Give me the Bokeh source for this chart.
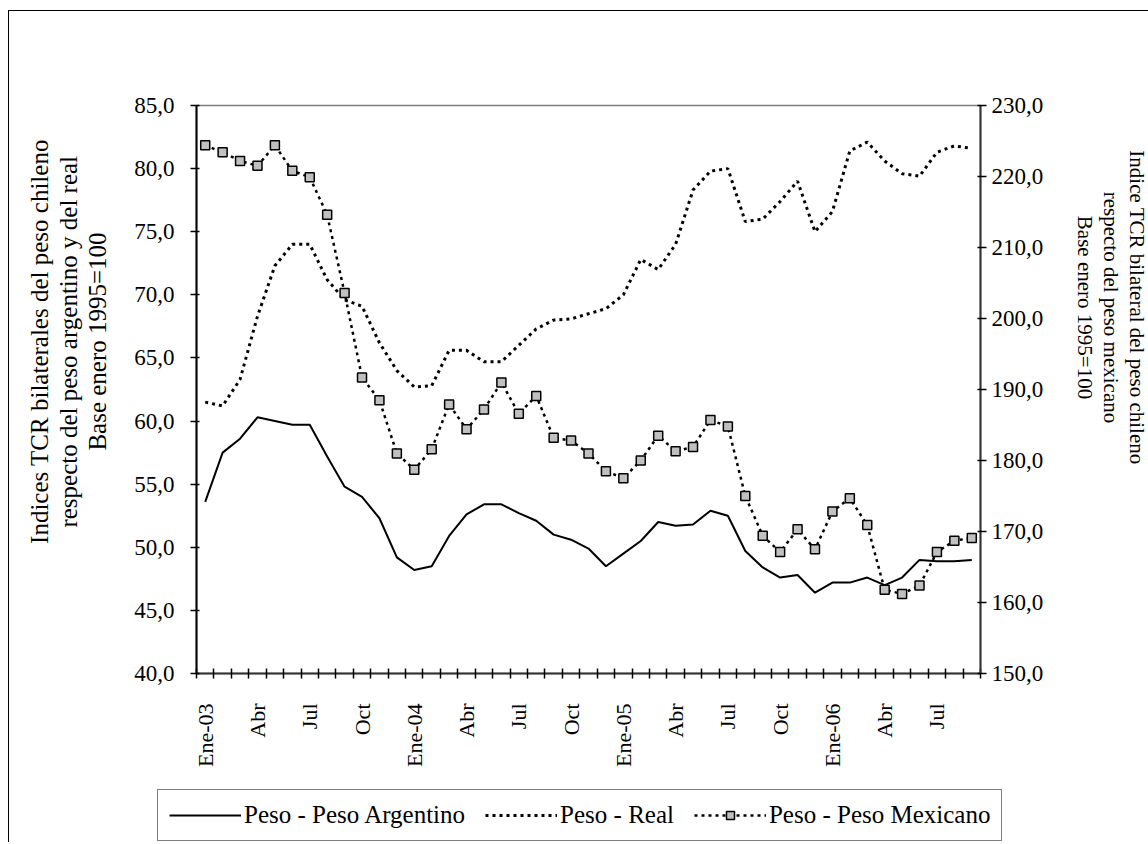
import math
from bokeh.plotting import figure
from bokeh.layouts import column
from bokeh.models import (Range1d, LinearAxis, FixedTicker, Legend, LegendItem, Title)
from bokeh.embed import file_html
from bokeh.resources import INLINE

# ---------------- data ----------------
month_labels = ["Ene-03", "Abr", "Jul", "Oct", "Ene-04", "Abr", "Jul", "Oct",
                "Ene-05", "Abr", "Jul", "Oct", "Ene-06", "Abr", "Jul"]
label_index = [0, 3, 6, 9, 12, 15, 18, 21, 24, 27, 30, 33, 36, 39, 42]

peso_argentino = [53.6, 57.5, 58.6, 60.3, 60.0, 59.7, 59.7, 57.2, 54.8, 54.0,
                  52.3, 49.2, 48.2, 48.5, 50.9, 52.6, 53.4, 53.4, 52.7, 52.1,
                  51.0, 50.6, 49.9, 48.5, 49.5, 50.5, 52.0, 51.7, 51.8, 52.9,
                  52.5, 49.7, 48.4, 47.6, 47.8, 46.4, 47.2, 47.2, 47.6, 47.0,
                  47.6, 49.0, 48.9, 48.9, 49.0]
peso_real = [61.5, 61.2, 63.3, 68.3, 72.3, 74.0, 74.0, 71.2, 69.6, 69.1,
             66.2, 64.0, 62.7, 62.8, 65.6, 65.6, 64.7, 64.7, 66.0, 67.3,
             68.0, 68.1, 68.5, 68.9, 70.0, 72.8, 72.0, 74.0, 78.3, 79.8,
             80.0, 75.8, 76.0, 77.4, 79.0, 75.0, 76.6, 81.4, 82.1, 80.6,
             79.6, 79.4, 81.3, 81.8, 81.6]
peso_mexicano = [224.4, 223.4, 222.2, 221.5, 224.4, 220.8, 219.9, 214.6, 203.6, 191.7,
                 188.5, 181.0, 178.7, 181.6, 187.9, 184.4, 187.2, 191.0, 186.6, 189.1,
                 183.2, 182.8, 181.0, 178.5, 177.5, 180.0, 183.5, 181.3, 181.9, 185.7,
                 184.8, 175.0, 169.4, 167.1, 170.3, 167.5, 172.8, 174.7, 170.9, 161.8,
                 161.2, 162.4, 167.1, 168.7, 169.1]

left_ticks = [40, 45, 50, 55, 60, 65, 70, 75, 80, 85]
right_ticks = [150, 160, 170, 180, 190, 200, 210, 220, 230]

legend_labels = ["Peso - Peso Argentino", "Peso - Real", "Peso - Peso Mexicano"]
left_title = ["Indices TCR bilaterales del peso chileno",
              "respecto del peso argentino y del real",
              "Base enero 1995=100"]
right_title = ["Indice TCR bilateral del peso chileno",
               "respecto del peso mexicano",
               "Base enero 1995=100"]

n = len(peso_argentino)
xs = [i + 0.5 for i in range(n)]

FONT = "Liberation Serif"
TICK_FS = "23px"
LEFT_TITLE_PX = 25
RIGHT_TITLE_PX = 21

# Times/Liberation Serif advance widths (per 1000 em), used to centre the titles
_W = {' ': 250, '-': 333, '=': 564, 'A': 722, 'B': 667, 'C': 667, 'I': 333,
      'R': 667, 'T': 611, 'a': 444, 'b': 500, 'c': 444, 'd': 500, 'e': 444,
      'g': 500, 'h': 500, 'i': 278, 'l': 278, 'm': 778, 'n': 500, 'o': 500,
      'p': 500, 'r': 333, 's': 389, 't': 278, 'u': 500, 'x': 500, 'y': 500}


def text_len(s, px):
    return sum(_W.get(ch, 500) for ch in s) * px / 1000.0


CONTENT_W = 1139

p = figure(frame_width=783, frame_height=567,
           x_range=Range1d(0, n), y_range=Range1d(40, 85),
           output_backend="svg", toolbar_location=None,
           min_border_left=187, min_border_right=169,
           min_border_top=94, min_border_bottom=110)
p.margin = (10, 0, 0, 8)
p.styles = {"border-left": "1px solid black", "border-top": "1px solid black"}
p.extra_y_ranges = {"mex": Range1d(150, 230)}
p.xgrid.visible = False
p.ygrid.visible = False
p.outline_line_color = "#808080"
p.outline_line_width = 1.5
p.background_fill_color = "white"
p.border_fill_color = "white"

# x axis: tick marks at month boundaries, labels at month centres
xa = p.xaxis[0]
xa.ticker = FixedTicker(ticks=[i + 0.5 for i in label_index],
                        minor_ticks=list(range(n + 1)))
xa.major_label_overrides = {i + 0.5: lab for i, lab in zip(label_index, month_labels)}
xa.major_tick_line_color = None
xa.major_tick_out = 0
xa.major_tick_in = 0
xa.minor_tick_line_color = "black"
xa.minor_tick_line_width = 1.5
xa.minor_tick_in = 5
xa.minor_tick_out = 5
xa.axis_line_color = "#333333"
xa.axis_line_width = 2
xa.major_label_orientation = math.pi / 2
xa.major_label_standoff = 25
xa.major_label_text_font = FONT
xa.major_label_text_font_size = "22px"
xa.major_label_text_color = "black"

# left axis
ya = p.yaxis[0]
ya.ticker = FixedTicker(ticks=left_ticks)
ya.major_label_overrides = {t: f"{t},0" for t in left_ticks}
ya.minor_tick_line_color = None
ya.major_tick_out = 6
ya.major_tick_in = 3
ya.major_tick_line_width = 1.5
ya.axis_line_color = "black"
ya.axis_line_width = 2
ya.major_label_standoff = 16
ya.major_label_text_font = FONT
ya.major_label_text_font_size = TICK_FS
ya.major_label_text_color = "black"
ya.axis_label = " "
ya.axis_label_text_font_size = "1px"
ya.axis_label_standoff = 17

# right axis
ra = LinearAxis(y_range_name="mex", ticker=FixedTicker(ticks=right_ticks))
ra.major_label_overrides = {t: f"{t},0" for t in right_ticks}
ra.minor_tick_line_color = None
ra.major_tick_out = 6
ra.major_tick_in = 3
ra.major_tick_line_width = 1.5
ra.axis_line_color = "#333333"
ra.axis_line_width = 2
ra.major_label_standoff = 5
ra.major_label_text_font = FONT
ra.major_label_text_font_size = TICK_FS
ra.major_label_text_color = "black"
ra.axis_label = " "
ra.axis_label_text_font_size = "1px"
ra.axis_label_standoff = 22
p.add_layout(ra, "right")

# series
line_styles = [dict(line_color="black", line_width=2),
               dict(line_color="black", line_width=3, line_dash="3 4"),
               dict(line_color="black", line_width=2.5, line_dash="3 4")]
marker_style = dict(marker="square", size=9, fill_color="#c0c0c0",
                    line_color="black", line_width=1.5)

p.line(xs, peso_argentino, **line_styles[0])
p.line(xs, peso_real, **line_styles[1])
p.line(xs, peso_mexicano, y_range_name="mex", **line_styles[2])
p.scatter(xs, peso_mexicano, y_range_name="mex", **marker_style)

# axis titles: stacked outward from the frame (innermost first)
left_centre_from_bottom = 332   # px above the frame bottom
right_centre_from_top = 202     # px below the frame top
for txt in reversed(left_title):
    off = left_centre_from_bottom - text_len(txt, LEFT_TITLE_PX) / 2
    p.add_layout(Title(text=txt, align="left", offset=off,
                       text_font=FONT, text_font_size=f"{LEFT_TITLE_PX}px",
                       text_font_style="normal", text_color="black",
                       standoff=0), "left")
for txt in reversed(right_title):
    off = right_centre_from_top - text_len(txt, RIGHT_TITLE_PX) / 2
    p.add_layout(Title(text=txt, align="left", offset=off,
                       text_font=FONT, text_font_size=f"{RIGHT_TITLE_PX}px",
                       text_font_style="normal", text_color="black",
                       standoff=0), "right")

# ---------------- legend strip (own small figure below the chart) ----------------
lg = figure(frame_width=CONTENT_W, frame_height=60,
            x_range=Range1d(0, 1), y_range=Range1d(0, 1),
            output_backend="svg", toolbar_location=None,
            x_axis_type=None, y_axis_type=None,
            min_border_left=0, min_border_right=0,
            min_border_top=0, min_border_bottom=0)
lg.margin = (0, 0, 0, 8)
lg.styles = {"border-left": "1px solid black"}
lg.outline_line_color = None
lg.xgrid.visible = False
lg.ygrid.visible = False
lg.border_fill_color = "white"
lg.background_fill_color = "white"

# legend proxies: same series, but far outside this strip's (0..1) ranges,
# so only their legend glyphs are visible
g_arg = lg.line(xs, peso_argentino, **line_styles[0])
g_real = lg.line(xs, peso_real, **line_styles[1])
g_mex_l = lg.line(xs, peso_mexicano, **line_styles[2])
g_mex_s = lg.scatter(xs, peso_mexicano, **marker_style)

legend = Legend(items=[LegendItem(label=legend_labels[0], renderers=[g_arg]),
                       LegendItem(label=legend_labels[1], renderers=[g_real]),
                       LegendItem(label=legend_labels[2], renderers=[g_mex_l, g_mex_s])],
                location=(148, 1), orientation="horizontal",
                border_line_color="black", border_line_width=1.5,
                background_fill_color="white", background_fill_alpha=1.0,
                label_text_font=FONT, label_text_font_size="25px",
                label_text_color="black",
                glyph_width=72, glyph_height=20, spacing=20, padding=11,
                label_standoff=3, margin=0)
lg.add_layout(legend, "center")

page = column(p, lg, spacing=0)
open("out.html", "w").write(file_html(page, INLINE))
